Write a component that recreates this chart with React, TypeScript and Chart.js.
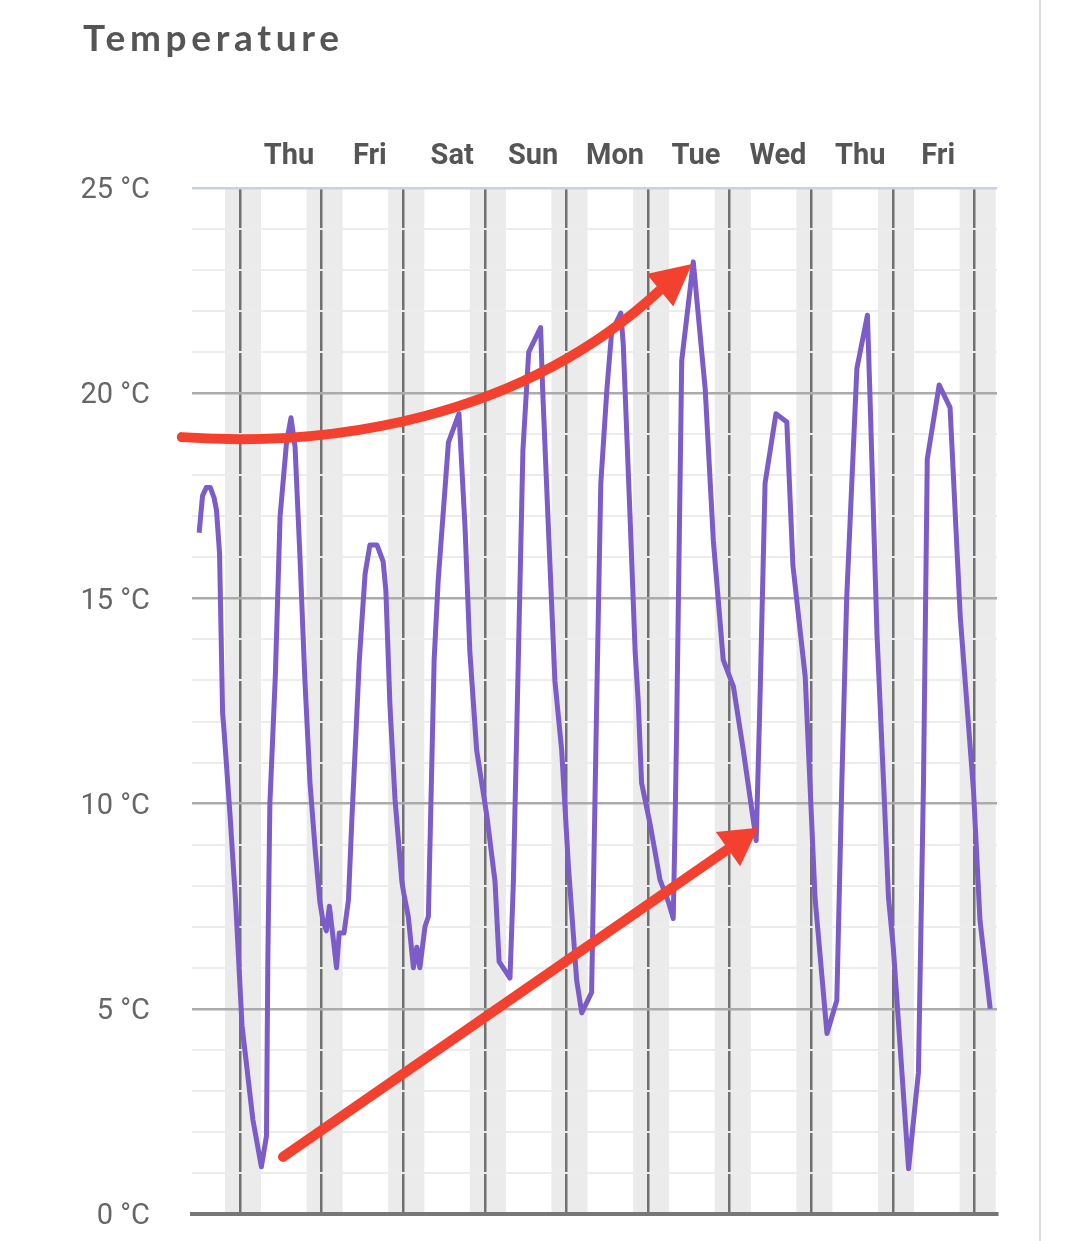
import React, { useEffect, useRef } from 'react';
import { Chart, registerables } from 'chart.js';

Chart.register(...registerables);

// Hours relative to Thursday 00:00
const hours = [
  -12.0, -11.0, -9.9, -8.7, -7.6, -6.9, -6.0, -5.1, -4.7, -2.9, -1.2, 0.6, 3.8, 6.3,
  7.8, 8.2, 8.8, 10.4, 11.8, 13.7, 15.0,
  16.2, 17.6, 19.1, 20.6, 22.1, 23.5, 24.4, 25.4, 26.3, 27.3, 28.4, 29.2, 30.6, 31.9,
  32.9, 34.1, 35.1, 35.9, 36.8, 38.2, 40.3, 42.1, 42.9, 44.1, 45.6, 47.6, 48.2, 49.5, 51.0, 52.0, 52.9, 54.4, 55.4,
  57.1, 58.3, 61.3, 64.4,
  66.2, 67.6, 69.6, 72.6, 75.0, 76.2, 79.4,
  80.4, 81.9, 83.2, 84.9, 88.4,
  89.0, 90.6, 92.6, 94.6, 96.6, 99.0, 100.5, 103.4,
  104.9, 106.1, 107.9, 109.3, 112.0,
  112.7, 114.7, 116.2, 117.1, 118.1, 120.6, 123.5, 126.0, 127.4,
  127.9, 128.4, 129.9, 133.3,
  136.8, 139.2, 142.1, 145.1, 148.0, 151.8,
  152.9, 154.4, 157.6, 160.8,
  162.6, 166.2, 169.1, 172.6, 175.5,
  177.0, 178.4, 181.4, 184.5,
  185.3, 187.3, 189.2, 190.7, 192.1, 196.6, 199.5,
  201.0, 202.1, 205.6, 208.8,
  211.8, 215.7, 217.6, 220.6,
];

const temps = [
  16.6, 17.5, 17.7, 17.7, 17.45, 17.15, 16.1, 12.2, 11.8, 9.7, 7.5, 4.6, 2.3, 1.15,
  1.9, 6.2, 10.0, 13.1, 17.0, 18.8, 19.4,
  18.7, 16.1, 13.0, 10.5, 8.9, 7.6, 7.15, 6.9, 7.5, 6.8, 6.0, 6.85, 6.85, 7.65,
  9.6, 11.7, 13.5, 14.5, 15.6, 16.3, 16.3, 15.9, 15.2, 12.4, 10.1, 8.1, 7.8, 7.25, 6.0, 6.5, 6.0, 7.0, 7.25,
  13.5, 15.45, 18.8, 19.5,
  16.7, 13.7, 11.3, 9.7, 8.1, 6.15, 5.75,
  8.1, 13.7, 18.6, 21.0, 21.6,
  20.1, 16.9, 13.0, 11.3, 8.45, 5.7, 4.9, 5.4,
  12.5, 17.8, 20.1, 21.5, 21.95,
  21.2, 17.0, 13.7, 12.5, 10.5, 9.5, 8.15, 7.6, 7.2,
  9.3, 11.8, 20.8, 23.2,
  20.1, 16.4, 13.5, 12.85, 11.3, 9.1,
  12.5, 17.8, 19.5, 19.3,
  15.8, 13.1, 7.7, 4.4, 5.2,
  10.6, 15.0, 20.6, 21.9,
  19.8, 14.15, 10.6, 7.7, 6.5, 1.1, 3.45,
  10.6, 18.4, 20.2, 19.65,
  14.55, 10.3, 7.15, 5.0,
];

const midnightHours = [0, 24, 48, 72, 96, 120, 144, 168, 192, 216];
const dayLabels = ['Thu', 'Fri', 'Sat', 'Sun', 'Mon', 'Tue', 'Wed', 'Thu', 'Fri'];
const dayLabelHours = [14.4, 38.2, 62.4, 86.2, 110.3, 134.1, 158.2, 182.4, 205.3];
const yMajorStep = 5;

const X_MIN = -14.1;
const X_MAX = 222.6;
const NIGHT_START = 19.6; // sunset hour
const NIGHT_END = 6.2; // sunrise hour

// Annotation arrows (hours, °C)
const curveArrow = [[-17.1, 18.93], [26.5, 18.67], [82.4, 19.35], [123.5, 22.51]];
const curveArrowTip = [132.9, 23.15];
const straightArrow = [[12.65, 1.39], [143.5, 8.89]];
const straightArrowTip = [152.4, 9.41];

const nightBands = {
  id: 'nightBands',
  beforeDraw(chart: any) {
    const { ctx, chartArea } = chart;
    const x = chart.scales.x;
    ctx.save();
    ctx.fillStyle = '#ebebeb';
    for (let d = -1; d <= 10; d++) {
      let s = x.getPixelForValue(d * 24 - (24 - NIGHT_START));
      let e = x.getPixelForValue(d * 24 + NIGHT_END);
      s = Math.max(s, chartArea.left);
      e = Math.min(e, chartArea.right);
      if (e > s) ctx.fillRect(s, chartArea.top, e - s, chartArea.bottom - chartArea.top);
    }
    ctx.restore();
  },
};

function drawHead(ctx: any, bx: number, by: number, tx: number, ty: number) {
  const dx = tx - bx;
  const dy = ty - by;
  const len = Math.hypot(dx, dy);
  const ux = dx / len;
  const uy = dy / len;
  const hw = 21;
  ctx.beginPath();
  ctx.moveTo(tx, ty);
  ctx.lineTo(bx - uy * hw, by + ux * hw);
  ctx.lineTo(bx + uy * hw, by - ux * hw);
  ctx.closePath();
  ctx.fill();
}

const arrows = {
  id: 'arrows',
  afterDraw(chart: any) {
    const { ctx } = chart;
    const x = chart.scales.x;
    const y = chart.scales.y;
    const P = (p: number[]) => [x.getPixelForValue(p[0]), y.getPixelForValue(p[1])];
    ctx.save();
    ctx.strokeStyle = '#f4402f';
    ctx.fillStyle = '#f4402f';
    ctx.lineWidth = 10;
    ctx.lineCap = 'round';
    ctx.lineJoin = 'round';
    const c = curveArrow.map(P);
    ctx.beginPath();
    ctx.moveTo(c[0][0], c[0][1]);
    ctx.bezierCurveTo(c[1][0], c[1][1], c[2][0], c[2][1], c[3][0], c[3][1]);
    ctx.stroke();
    const t1 = P(curveArrowTip);
    drawHead(ctx, c[3][0], c[3][1], t1[0], t1[1]);
    const s = straightArrow.map(P);
    ctx.beginPath();
    ctx.moveTo(s[0][0], s[0][1]);
    ctx.lineTo(s[1][0], s[1][1]);
    ctx.stroke();
    const t2 = P(straightArrowTip);
    drawHead(ctx, s[1][0], s[1][1], t2[0], t2[1]);
    ctx.restore();
  },
};

export default function App() {
  const ref = useRef<HTMLCanvasElement | null>(null);
  useEffect(() => {
    if (!ref.current) return;
    const chart = new Chart(ref.current, {
      type: 'line',
      data: {
        datasets: [
          {
            data: hours.map((h, i) => ({ x: h, y: temps[i] })),
            borderColor: '#7b5cc9',
            borderWidth: 5,
            pointRadius: 0,
            tension: 0,
            fill: false,
            borderJoinStyle: 'round',
            xAxisID: 'x',
            yAxisID: 'y',
          } as any,
        ],
      },
      options: {
        animation: false,
        responsive: false,
        devicePixelRatio: 1,
        layout: { autoPadding: false, padding: { top: 100, bottom: 0, left: 0, right: 83 } },
        plugins: { legend: { display: false }, tooltip: { enabled: false }, title: { display: false } },
        scales: {
          x: {
            type: 'linear',
            position: 'bottom',
            min: X_MIN,
            max: X_MAX,
            afterBuildTicks: (s: any) => {
              s.ticks = midnightHours.map((v) => ({ value: v }));
            },
            ticks: { display: false },
            grid: { color: '#707070', lineWidth: 2.5, drawTicks: false },
            border: { display: true, color: '#777777', width: 4 },
            afterFit: (s: any) => {
              s.height = 27;
              s.paddingLeft = 0;
              s.paddingRight = 0;
            },
          },
          xTop: {
            type: 'linear',
            position: 'top',
            min: X_MIN,
            max: X_MAX,
            afterBuildTicks: (s: any) => {
              s.ticks = dayLabelHours.map((v) => ({ value: v }));
            },
            ticks: {
              autoSkip: false,
              minRotation: 0,
              maxRotation: 0,
              padding: 14,
              color: '#555555',
              font: { family: 'Roboto', size: 29, weight: 'bold' },
              callback: (_v: any, i: number) => dayLabels[i],
            },
            grid: { display: false, drawTicks: false },
            border: { display: false },
            afterFit: (s: any) => {
              s.height = 88;
              s.paddingLeft = 0;
              s.paddingRight = 0;
            },
          },
          y: {
            type: 'linear',
            position: 'left',
            min: 0,
            max: 25,
            afterBuildTicks: (s: any) => {
              const t = [];
              for (let v = 0; v <= 25; v++) t.push({ value: v });
              s.ticks = t;
            },
            ticks: {
              autoSkip: false,
              padding: 42,
              labelOffset: 3,
              color: '#666666',
              font: { family: 'Roboto', size: 29 },
              callback: (v: any) => (v % yMajorStep === 0 ? `${v} °C` : ''),
            },
            grid: {
              drawTicks: false,
              color: (c: any) => {
                const v = c.tick.value;
                if (v === 25) return '#c9d1e2';
                if (v === 0) return 'rgba(0,0,0,0)';
                return v % yMajorStep === 0 ? '#ababab' : '#ececec';
              },
              lineWidth: (c: any) => (c.tick.value % yMajorStep === 0 ? 2.5 : 2),
            },
            border: { display: false },
            afterFit: (s: any) => {
              s.width = 192;
              s.paddingTop = 0;
              s.paddingBottom = 0;
            },
          },
        },
      } as any,
      plugins: [nightBands, arrows],
    });
    return () => chart.destroy();
  }, []);

  return (
    <div style={{ position: 'absolute', left: 0, top: 0, width: 1080, height: 1241, background: '#fff', overflow: 'hidden' }}>
      <canvas ref={ref} width={1080} height={1241} style={{ position: 'absolute', left: 0, top: 0, width: 1080, height: 1241, display: 'block' }} />
      <div
        style={{
          position: 'absolute',
          left: 83,
          top: 15,
          fontFamily: 'Lato, sans-serif',
          fontWeight: 700,
          fontSize: 37,
          letterSpacing: '4.7px',
          lineHeight: '44px',
          color: '#555555',
          whiteSpace: 'nowrap',
        }}
      >
        Temperature
      </div>
      <div style={{ position: 'absolute', left: 1039, top: 0, width: 2, height: 1241, background: '#dcdcdc' }} />
    </div>
  );
}
